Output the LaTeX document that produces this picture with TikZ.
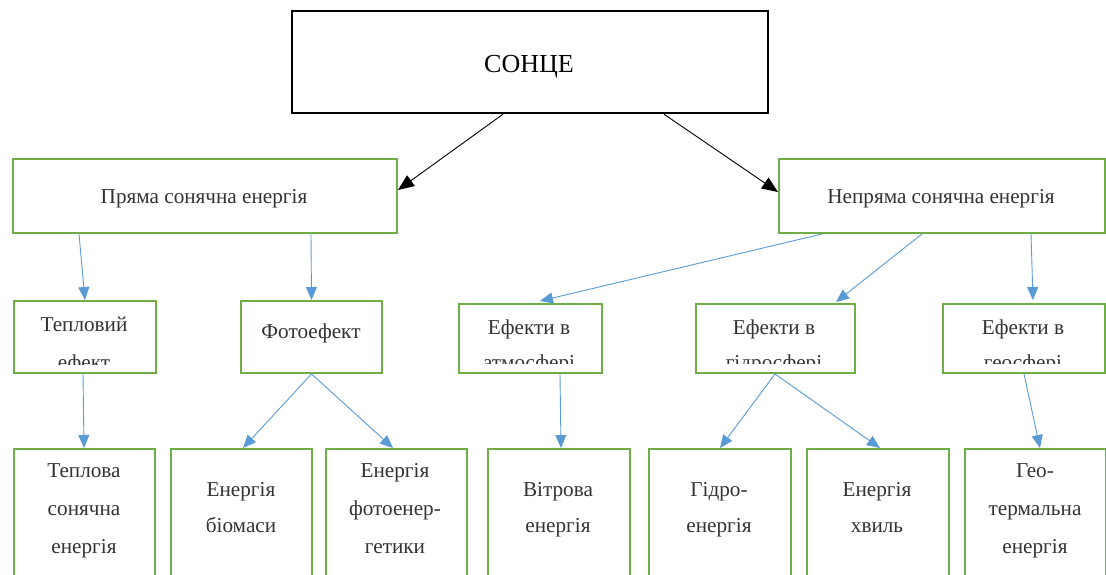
\documentclass[tikz,border=0pt]{standalone}
\usepackage{fontspec}
\setmainfont{Liberation Serif}
\usetikzlibrary{arrows.meta}
\definecolor{gr}{HTML}{70AD47}
\definecolor{bl}{HTML}{5B9BD5}
\definecolor{tx}{HTML}{333333}
\tikzset{
  gbox/.style={draw=gr, line width=2pt, inner sep=0pt, anchor=north west},
  sbox/.style={draw=black, line width=2.2pt, inner sep=0pt, anchor=north west},
  lbl/.style={font=\fontsize{21.2}{38}\selectfont, text=tx, align=center, inner sep=0pt, anchor=base},
  lbltwo/.style={lbl, font=\fontsize{21.2}{36}\selectfont},
  lblclip/.style={lbl, font=\fontsize{21.2}{35}\selectfont},
  blarr/.style={draw=bl, line width=0.9pt, -{Triangle[length=13pt,width=11pt]}},
  bkarr/.style={draw=black, line width=0.9pt, -{Triangle[length=16pt,width=13pt]}}
}
\begin{document}
\begin{tikzpicture}[x=1pt,y=-1pt]
\clip (0,0) rectangle (1106,574);
\fill[white] (0,0) rectangle (1106,574);
% boxes
\node[sbox, minimum width=476pt, minimum height=102pt] (sun) at (291,10) {};
\node[gbox, minimum width=384pt, minimum height=74pt] (pr) at (12,158) {};
\node[gbox, minimum width=326pt, minimum height=74pt] (np) at (778,158) {};
\node[gbox, minimum width=142pt, minimum height=72pt] (tep) at (13,300) {};
\node[gbox, minimum width=141pt, minimum height=72pt] (fot) at (240,300) {};
\node[gbox, minimum width=143pt, minimum height=69pt] (atm) at (458,303) {};
\node[gbox, minimum width=159pt, minimum height=69pt] (gid) at (695,303) {};
\node[gbox, minimum width=162pt, minimum height=69pt] (geo) at (942,303) {};
\node[gbox, minimum width=141pt, minimum height=160pt] (b1) at (13,448) {};
\node[gbox, minimum width=141pt, minimum height=160pt] (b2) at (170,448) {};
\node[gbox, minimum width=141pt, minimum height=160pt] (b3) at (325,448) {};
\node[gbox, minimum width=142pt, minimum height=160pt] (b4) at (487,448) {};
\node[gbox, minimum width=142pt, minimum height=160pt] (b5) at (648,448) {};
\node[gbox, minimum width=142pt, minimum height=160pt] (b6) at (806,448) {};
\node[gbox, minimum width=141pt, minimum height=160pt] (b7) at (964,448) {};
% texts
\node[lbl, font=\fontsize{26}{30}\selectfont, text=black] (tsun) at (529,72) {СОНЦЕ};
\node[lbl] (tpr) at (204,203) {Пряма сонячна енергія};
\node[lbl] (tnp) at (941,203) {Непряма сонячна енергія};
\node[lbl] (tfot) at (311,338) {Фотоефект};
\begin{scope}
  \clip (15,302) rectangle (153,364);
  \node[lbl, anchor=north] (ttep) at (84,317) {Тепловий\\ефект};
\end{scope}
\begin{scope}
  \clip (460,305) rectangle (599,363);
  \node[lblclip, anchor=north] (tatm) at (529,320) {Ефекти в\\атмосфері};
\end{scope}
\begin{scope}
  \clip (697,305) rectangle (852,363);
  \node[lblclip, anchor=north] (tgid) at (774,320) {Ефекти в\\гідросфері};
\end{scope}
\begin{scope}
  \clip (944,305) rectangle (1102,363);
  \node[lblclip, anchor=north] (tgeo) at (1023,320) {Ефекти в\\геосфері};
\end{scope}
\node[lbl, anchor=north] (t1) at (84,463) {Теплова\\сонячна\\енергія};
\node[lbltwo, anchor=north] (t2) at (241,482) {Енергія\\біомаси};
\node[lbl, anchor=north] (t3) at (395,463) {Енергія\\фотоенер-\\гетики};
\node[lbltwo, anchor=north] (t4) at (558,482) {Вітрова\\енергія};
\node[lbltwo, anchor=north] (t5) at (719,482) {Гідро-\\енергія};
\node[lbltwo, anchor=north] (t6) at (877,482) {Енергія\\хвиль};
\node[lbl, anchor=north] (t7) at (1035,463) {Гео-\\термальна\\енергія};
% black arrows
\draw[bkarr] ([xshift=212pt]sun.south west) -- ([yshift=-32pt]pr.north east);
\draw[bkarr] ([xshift=373pt]sun.south west) -- ([yshift=-34pt]np.north west);
% blue arrows
\draw[blarr] ([xshift=67pt]pr.south west) -- (tep.north);
\draw[blarr] ([xshift=299pt]pr.south west) -- (fot.north);
\draw[blarr] ([xshift=44pt]np.south west) -- ([xshift=82pt,yshift=2pt]atm.north west);
\draw[blarr] ([xshift=144pt]np.south west) -- ([xshift=141pt,yshift=1pt]gid.north west);
\draw[blarr] ([xshift=253pt]np.south west) -- ([xshift=91pt,yshift=3pt]geo.north west);
\draw[blarr] ([xshift=70pt]tep.south west) -- ([xshift=71pt]b1.north west);
\draw[blarr] (fot.south) -- ([xshift=73pt]b2.north west);
\draw[blarr] (fot.south) -- ([xshift=68pt]b3.north west);
\draw[blarr] ([xshift=102pt]atm.south west) -- ([xshift=74pt]b4.north west);
\draw[blarr] ([xshift=80pt]gid.south west) -- ([xshift=72pt]b5.north west);
\draw[blarr] ([xshift=80pt]gid.south west) -- ([xshift=74pt]b6.north west);
\draw[blarr] ([xshift=82pt]geo.south west) -- ([xshift=76pt]b7.north west);
\end{tikzpicture}
\end{document}
